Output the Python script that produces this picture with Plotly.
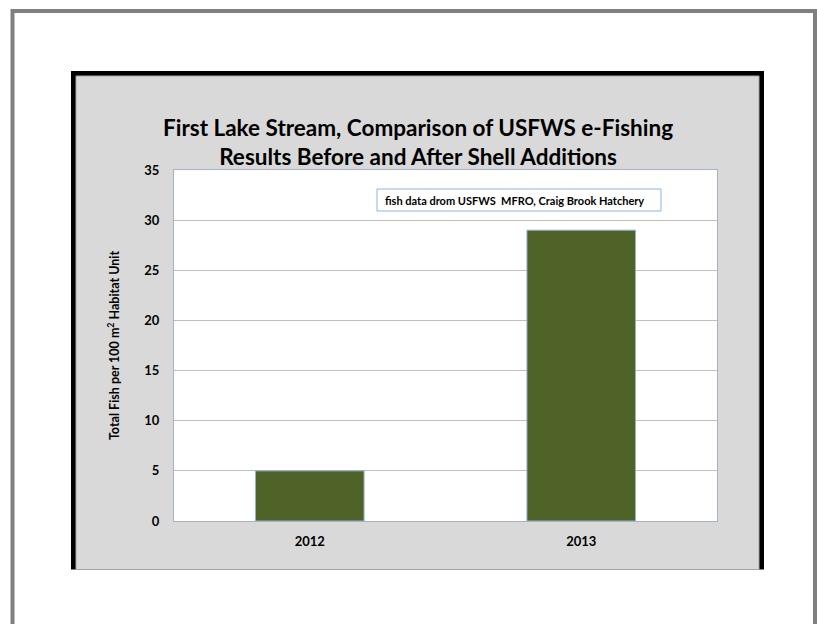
import plotly.graph_objects as go

# Survey data
years = ["2012", "2013"]
fish_per_100m2 = [5, 29]
y_ticks = [0, 5, 10, 15, 20, 25, 30, 35]

title_text = ("<b>First Lake Stream, Comparison of USFWS e-Fishing<br>"
              "Results Before and After Shell Additions</b>")
y_title = "<b>Total Fish per 100 m<sup>2</sup> Habitat Unit</b>"
note_text = "<b>fish data drom USFWS\u00a0 MFRO, Craig Brook Hatchery</b>"

W, H = 817, 624
PL, PR, PT, PB = 174, 717, 170, 521  # plot area in page pixels
FONT = "Lato, 'Open Sans', sans-serif"


def xp(px):
    return (px - PL) / (PR - PL)


def yp(py):
    return (PB - py) / (PB - PT)


fig = go.Figure(
    go.Bar(
        x=years,
        y=fish_per_100m2,
        marker=dict(color="#4F6228", line=dict(color="#95b3d7", width=1)),
        width=0.4,
    )
)

shapes = [
    # page frame
    dict(type="rect", xref="paper", yref="paper",
         x0=xp(12.5), x1=xp(815), y0=yp(11), y1=yp(660),
         line=dict(color="#808080", width=4), fillcolor="white", layer="below"),
    # chart frame (black edge on left, top, right)
    dict(type="rect", xref="paper", yref="paper",
         x0=xp(71), x1=xp(764), y0=yp(71), y1=yp(569.5),
         line=dict(width=0), fillcolor="black", layer="below"),
    dict(type="rect", xref="paper", yref="paper",
         x0=xp(76), x1=xp(759), y0=yp(76), y1=yp(569.5),
         line=dict(color="#a6a6a6", width=1), fillcolor="#d9d9d9", layer="below"),
    # plot area
    dict(type="rect", xref="paper", yref="paper",
         x0=0, x1=1, y0=0, y1=1,
         line=dict(width=0), fillcolor="white", layer="below"),
    # note box
    dict(type="rect", xref="paper", yref="paper",
         x0=xp(377), x1=xp(661), y0=yp(189), y1=yp(211),
         line=dict(color="#8eb4e3", width=1), fillcolor="white", layer="above"),
]

annotations = [
    dict(text=title_text, xref="paper", yref="paper",
         x=xp(417.5), y=yp(141.5), xanchor="center", yanchor="middle",
         showarrow=False, font=dict(family=FONT, size=22.5, color="black"),
         align="center"),
    dict(text=note_text, xref="paper", yref="paper",
         x=xp(383), y=yp(200), xanchor="left", yanchor="middle",
         showarrow=False, font=dict(family=FONT, size=11, color="black")),
]

fig.update_layout(
    width=W, height=H,
    margin=dict(l=PL, r=W - PR, t=PT, b=H - PB, pad=0),
    paper_bgcolor="white",
    plot_bgcolor="white",
    showlegend=False,
    bargap=0.6,
    shapes=shapes,
    annotations=annotations,
    font=dict(family=FONT, color="black"),
)

fig.update_xaxes(
    showgrid=False,
    showline=True, linecolor="#a6b3c6", linewidth=1, mirror=True,
    ticks="", ticklabelstandoff=8,
    tickfont=dict(family=FONT, size=13, color="black", weight="bold"),
)

fig.update_yaxes(
    range=[0, 35], tickvals=y_ticks,
    showgrid=True, gridcolor="#c0c0c0", gridwidth=1,
    zeroline=False,
    showline=True, linecolor="#a6b3c6", linewidth=1, mirror=True,
    ticks="", ticklabelstandoff=11,
    tickfont=dict(family=FONT, size=13, color="black", weight="bold"),
    title=dict(text=y_title, standoff=21,
               font=dict(family=FONT, size=12.5, color="black")),
)

fig.write_html("out.html")
